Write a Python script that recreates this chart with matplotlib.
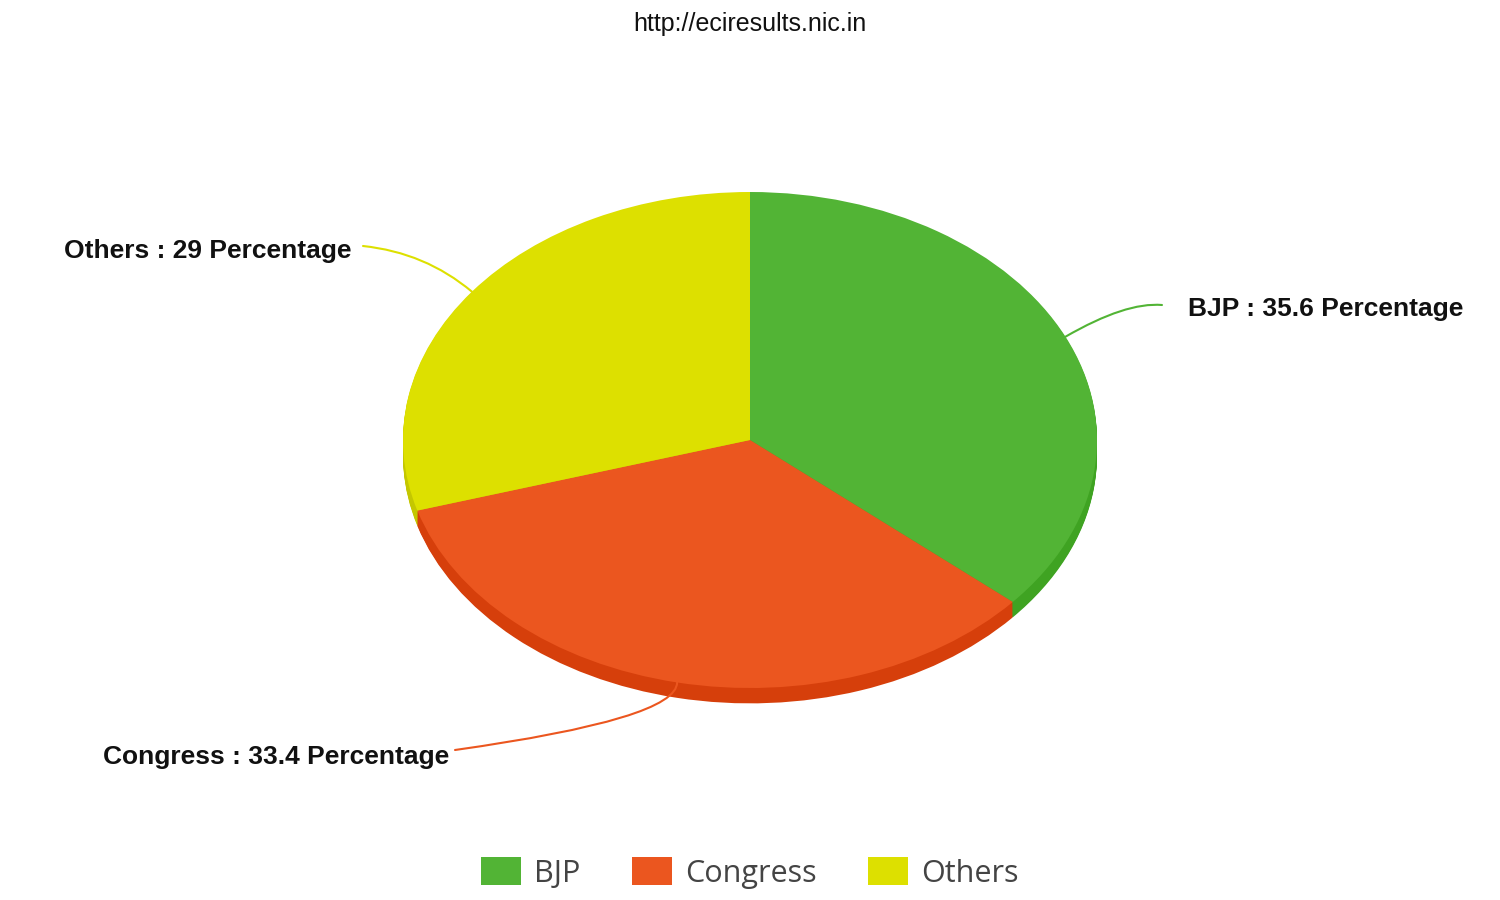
import numpy as np
import matplotlib
matplotlib.use('Agg')
import matplotlib.pyplot as plt

parties = ['BJP', 'Congress', 'Others']
shares = [35.6, 33.4, 29]
top_colors = ['#52b435', '#eb561f', '#dde000']
side_colors = ['#3fa322', '#d63f0b', '#c4c700']
source = 'http://eciresults.nic.in'

fig = plt.figure(figsize=(15, 9), dpi=100)

# background axes in pixel units, for text and leader lines
bg = fig.add_axes([0, 0, 1, 1])
bg.set_xlim(0, 1500)
bg.set_ylim(900, 0)
bg.axis('off')

# pie axes stretched to an ellipse, gives the tilted look
pax = fig.add_axes([403 / 1500, (900 - 688) / 900, 694 / 1500, 496 / 900])

depth = 0.062
for off in np.linspace(depth, 0.004, 16):
    w, _ = pax.pie(shares, colors=side_colors, startangle=90, counterclock=False,
                   center=(0, -off), radius=1, wedgeprops=dict(linewidth=0, clip_on=False))
wedges, _ = pax.pie(shares, colors=top_colors, startangle=90, counterclock=False,
                    radius=1, wedgeprops=dict(linewidth=0, clip_on=False))
pax.set_aspect('auto')
pax.set_xlim(-1, 1)
pax.set_ylim(-1, 1)
pax.axis('off')

bg.text(750, 24, source, ha='center', va='center', fontsize=18,
        family='Liberation Sans', color='#111111')

# labels with leader lines
label_pos = [(1188, 309, 'left'), (449, 757, 'right'), (351, 251, 'right')]
line_end = [(1162, 305), (455, 750), (363, 246)]
conn = ['angle3,angleA=-5,angleB=30', 'angle3,angleA=8,angleB=90', 'angle3,angleA=-6,angleB=-40']
total = sum(shares)
start = 90.0
for i, name in enumerate(parties):
    span = shares[i] / total * 360
    mid = np.deg2rad(start - span / 2)
    start -= span
    ax_pt = (np.cos(mid), np.sin(mid))
    pax.annotate('', xy=ax_pt, xycoords='data', xytext=line_end[i], textcoords=bg.transData,
                 arrowprops=dict(arrowstyle='-', color=top_colors[i], lw=1.5,
                                 connectionstyle=conn[i], shrinkA=0, shrinkB=0))
    x, y, ha = label_pos[i]
    txt = '%s : %s Percentage' % (name, ('%g' % shares[i]))
    bg.text(x, y, txt, ha=ha, va='center', fontsize=19, fontweight='bold',
            family='Liberation Sans', color='#111111')

leg = fig.legend(wedges, parties, ncol=3, loc='center', bbox_to_anchor=(0.5, 1 - 873 / 900),
                 frameon=False, handlelength=1.3, handleheight=1.0, handletextpad=0.42,
                 columnspacing=1.7, prop={'family': 'Open Sans', 'size': 22})
for t in leg.get_texts():
    t.set_color('#444444')

fig.savefig('out.png', dpi=100)
